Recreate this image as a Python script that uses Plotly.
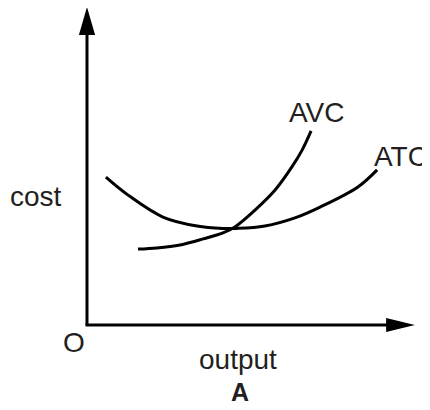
import plotly.graph_objects as go

# Curve data (output, cost)
atc_output = [0.63, 1.37, 2.53, 3.67, 4.53, 5.0, 5.93, 6.93, 7.77, 9.03, 9.67]
atc_cost = [4.93, 4.33, 3.6, 3.3, 3.22, 3.22, 3.3, 3.57, 3.93, 4.6, 5.17]

avc_output = [1.70, 2.33, 3.10, 3.87, 4.53, 4.93, 5.60, 6.27, 6.83, 7.17, 7.47]
avc_cost = [2.53, 2.57, 2.67, 2.87, 3.07, 3.27, 3.83, 4.50, 5.27, 5.83, 6.47]

curve_labels = ["AVC", "ATC"]
axis_labels = ["cost", "output"]
origin_label = "O"
panel_label = "A"

X_TIP, Y_TIP = 10.93, 10.6
X_END, Y_END = 9.97, 9.67

FONT = "Liberation Sans, Arial, Helvetica, sans-serif"
TXT = "#231f20"
LW = 3

fig = go.Figure()
fig.add_trace(go.Scatter(x=atc_output, y=atc_cost, mode="lines",
                         line=dict(color="black", width=LW, shape="spline", smoothing=1.0),
                         hoverinfo="skip", showlegend=False))
fig.add_trace(go.Scatter(x=avc_output, y=avc_cost, mode="lines",
                         line=dict(color="black", width=LW, shape="spline", smoothing=1.0),
                         hoverinfo="skip", showlegend=False))

shapes = [
    dict(type="line", x0=0, y0=0, x1=0, y1=Y_END + 0.05, line=dict(color="black", width=LW)),
    dict(type="line", x0=-0.05, y0=0, x1=X_END + 0.05, y1=0, line=dict(color="black", width=LW)),
    dict(type="path", path=f"M {-0.27} {Y_END} L 0 {Y_TIP} L 0.27 {Y_END} Z",
         fillcolor="black", line=dict(color="black", width=0)),
    dict(type="path", path=f"M {X_END} {-0.23} L {X_TIP} 0 L {X_END} 0.23 Z",
         fillcolor="black", line=dict(color="black", width=0)),
]

def ann(text, x, y, size=28, bold=False):
    return dict(text=f"<b>{text}</b>" if bold else text, x=x, y=y, xref="x", yref="y",
                showarrow=False, xanchor="center", yanchor="middle",
                font=dict(family=FONT, size=size, color=TXT))

annotations = [
    ann(axis_labels[0], -1.7, 4.27),
    ann(origin_label, -0.43, -0.57),
    ann(axis_labels[1], 5.02, -1.15),
    ann(panel_label, 5.1, -2.23, size=25, bold=True),
    ann(curve_labels[0], 7.67, 7.1),
    ann(curve_labels[1], 10.47, 5.63),
]

# page has an 8px body margin: size/range compensate so the diagram sits like the reference
fig.update_layout(
    width=422, height=402, autosize=False,
    margin=dict(l=0, r=0, t=0, b=0),
    paper_bgcolor="white", plot_bgcolor="white",
    xaxis=dict(range=[-2.633, 11.433], visible=False, fixedrange=True),
    yaxis=dict(range=[-2.833, 10.567], visible=False, fixedrange=True),
    shapes=shapes, annotations=annotations,
)

fig.write_html("out.html")
